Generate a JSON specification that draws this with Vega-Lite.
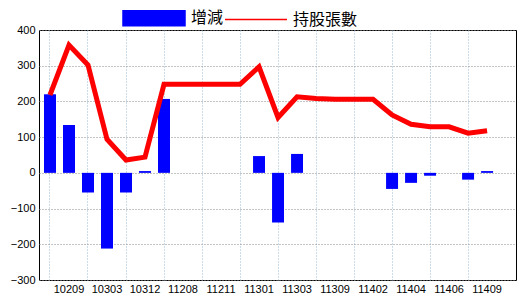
{
  "$schema": "https://vega.github.io/schema/vega-lite/v6.json",
  "autosize": {"type": "none"},
  "width": 477,
  "height": 250,
  "padding": {"left": 39, "top": 30, "right": 4, "bottom": 20},
  "background": "white",
  "config": {
    "view": {"stroke": "black", "strokeWidth": 1},
    "axis": {"labelFont": "Liberation Sans", "labelFontSize": 11, "labelColor": "black"},
    "axisY": {"labelOverlap": false, "labelFlush": false}
  },
  "data": {
    "values": [
      {"month": "10206", "change": 220, "holding": 218},
      {"month": "10209", "change": 134, "holding": 358},
      {"month": "10212", "change": -55, "holding": 302},
      {"month": "10303", "change": -212, "holding": 94},
      {"month": "10306", "change": -55, "holding": 36},
      {"month": "10312", "change": 5, "holding": 44},
      {"month": "11205", "change": 207, "holding": 248},
      {"month": "11208", "change": 0, "holding": 248},
      {"month": "11209", "change": 0, "holding": 248},
      {"month": "11211", "change": 0, "holding": 248},
      {"month": "11212", "change": 0, "holding": 248},
      {"month": "11301", "change": 47, "holding": 297},
      {"month": "11302", "change": -139, "holding": 155},
      {"month": "11303", "change": 53, "holding": 213},
      {"month": "11306", "change": 0, "holding": 208},
      {"month": "11309", "change": 0, "holding": 206},
      {"month": "11312", "change": 0, "holding": 206},
      {"month": "11402", "change": 0, "holding": 206},
      {"month": "11403", "change": -45, "holding": 162},
      {"month": "11404", "change": -28, "holding": 136},
      {"month": "11405", "change": -8, "holding": 129},
      {"month": "11406", "change": 0, "holding": 129},
      {"month": "11408", "change": -19, "holding": 111},
      {"month": "11409", "change": 5, "holding": 118}
    ]
  },
  "encoding": {
    "x": {
      "field": "month",
      "type": "ordinal",
      "sort": null,
      "title": null,
      "scale": {"paddingInner": 0.37, "paddingOuter": 0.735, "align": 0.179},
      "axis": {
        "labelAngle": 0,
        "labelOverlap": false,
        "labelPadding": 3,
        "ticks": false,
        "domain": false,
        "grid": true,
        "gridColor": "#9ab8d2",
        "gridDash": [1, 2],
        "gridOpacity": {
          "condition": {"test": "indexof(['10206','10212','10306','11205','11209','11212','11302','11306','11312','11403','11405','11408'], datum.value) >= 0", "value": 1},
          "value": 0
        },
        "labelExpr": "indexof(['10209','10303','10312','11208','11211','11301','11303','11309','11402','11404','11406','11409'], datum.value) >= 0 ? datum.label : ''"
      }
    }
  },
  "layer": [
    {
      "mark": {"type": "bar"},
      "encoding": {
        "y": {
          "field": "change",
          "type": "quantitative",
          "title": null,
          "scale": {"domain": [-300, 400], "nice": false},
          "axis": {
            "values": [-300, -200, -100, 0, 100, 200, 300, 400],
            "tickCount": 20,
            "ticks": false,
            "domain": false,
            "labelPadding": 4,
            "labelOverlap": false,
            "labelFlush": false,
            "grid": true,
            "gridColor": "#888888",
            "gridDash": [1, 2]
          }
        },
        "color": {
          "datum": "增減",
          "scale": {"domain": ["增減", "持股張數"], "range": ["#0000ff", "#ff0000"]},
          "legend": {
            "orient": "none",
            "legendX": 83,
            "legendY": -44,
            "direction": "horizontal",
            "title": null,
            "padding": 0,
            "symbolSize": 3844,
            "labelOffset": 5,
            "columnPadding": -3,
            "labelFont": "Noto Sans CJK TC",
            "labelFontSize": 16,
            "labelColor": "black",
            "encode": {
              "symbols": {
                "update": {
                  "shape": {"signal": "datum.value == '增減' ? 'M-1,-0.242H1V0.242H-1Z' : 'M-1,0H1'"},
                  "fill": {"signal": "datum.value == '增減' ? '#0000ff' : 'transparent'"},
                  "stroke": {"signal": "datum.value == '增減' ? 'transparent' : '#ff0000'"},
                  "strokeWidth": {"value": 1.5},
                  "opacity": {"value": 1},
                  "fillOpacity": {"value": 1},
                  "strokeOpacity": {"value": 1}
                }
              }
            }
          }
        }
      }
    },
    {
      "mark": {"type": "rule", "color": "black", "strokeWidth": 1.5},
      "encoding": {"y": {"datum": 0}}
    },
    {
      "mark": {"type": "line", "strokeWidth": 5, "strokeJoin": "miter"},
      "encoding": {
        "y": {"field": "holding", "type": "quantitative"},
        "color": {"datum": "持股張數"}
      }
    }
  ]
}
